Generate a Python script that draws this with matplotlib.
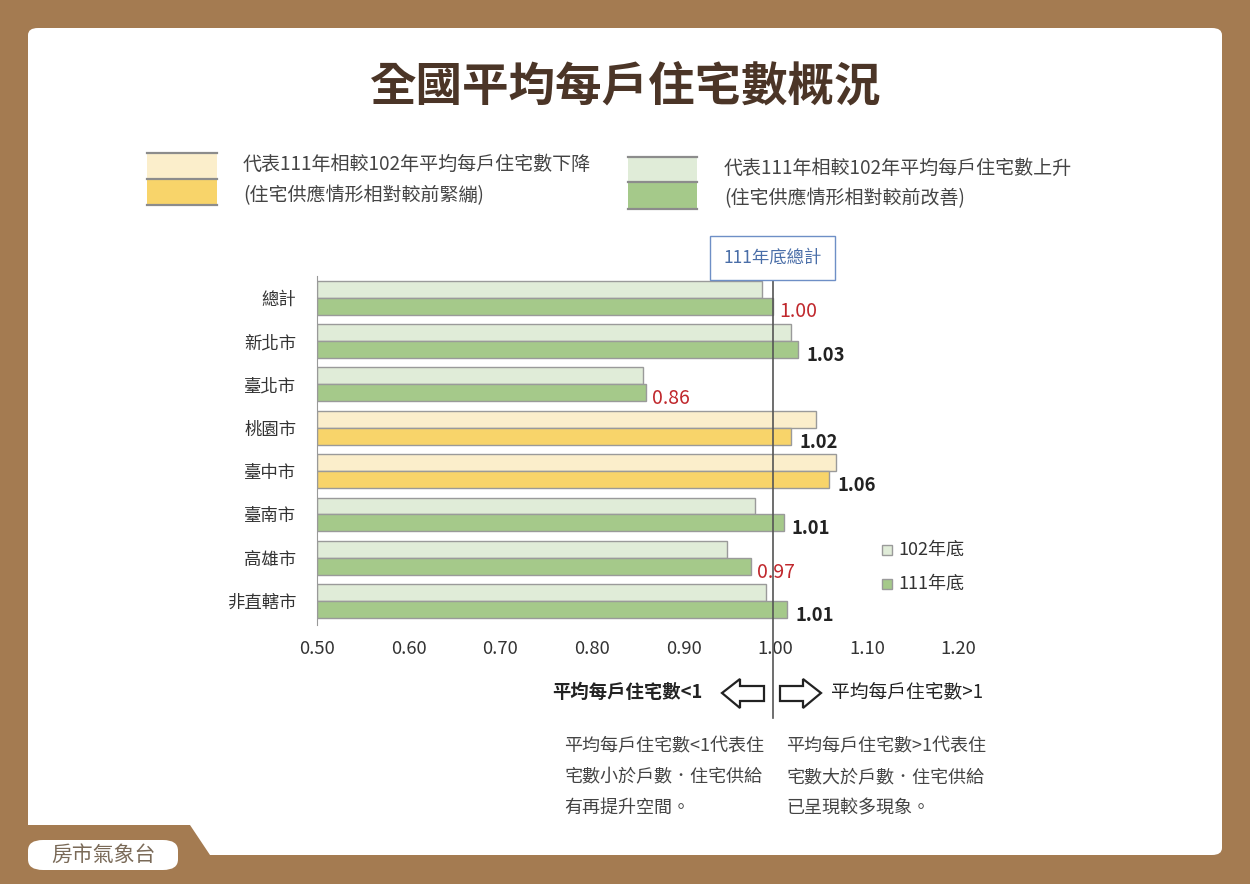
import matplotlib
matplotlib.use("Agg")
import matplotlib.pyplot as plt
from matplotlib.patches import FancyBboxPatch, Rectangle, Polygon
from matplotlib.lines import Line2D

plt.rcParams['font.family'] = ['Noto Sans CJK TC', 'DejaVu Sans']

categories = ["總計", "新北市", "臺北市", "桃園市", "臺中市", "臺南市", "高雄市", "非直轄市"]
values_102 = [0.985, 1.017, 0.856, 1.044, 1.066, 0.978, 0.947, 0.990]
values_111 = [0.997, 1.025, 0.859, 1.017, 1.059, 1.009, 0.973, 1.013]
labels_111 = ["1.00", "1.03", "0.86", "1.02", "1.06", "1.01", "0.97", "1.01"]
x_ticks = [0.5, 0.6, 0.7, 0.8, 0.9, 1.0, 1.1, 1.2]

W, H = 1250, 884
BROWN = "#A47B51"
LIGHT_GREEN = "#E0ECD8"
GREEN = "#A5C98A"
LIGHT_YELLOW = "#FBEECB"
YELLOW = "#F8D46A"
EDGE = "#9a9a9a"
RED = "#C0282D"


def fx(x):
    return x / W


def fy(y):
    return 1 - y / H


fig = plt.figure(figsize=(12.5, 8.84), dpi=100, facecolor=BROWN)

# white panel
panel = FancyBboxPatch((fx(28), fy(855)), fx(1222) - fx(28), fy(28) - fy(855),
                       boxstyle="round,pad=0,rounding_size=0.008",
                       transform=fig.transFigure, facecolor="white", edgecolor="none", zorder=0)
fig.patches.append(panel)
notch = Polygon([(fx(20), fy(825)), (fx(190), fy(825)), (fx(212), fy(858)), (fx(20), fy(858))],
                closed=True, transform=fig.transFigure, facecolor=BROWN, edgecolor="none", zorder=1)
fig.patches.append(notch)
pill = FancyBboxPatch((fx(28), fy(870)), fx(178) - fx(28), fy(840) - fy(870),
                      boxstyle="round,pad=0,rounding_size=0.012",
                      transform=fig.transFigure, facecolor="white", edgecolor="none", zorder=2)
fig.patches.append(pill)
fig.text(fx(103), fy(855), "房市氣象台", ha="center", va="center", fontsize=15,
         color="#7a6a58", fontweight="light", zorder=3)

# title
fig.text(0.5, fy(88), "全國平均每戶住宅數概況", ha="center", va="center",
         fontsize=33.5, fontweight="bold", color="#4B3527")

# top legend swatches
def swatch(x0, x1, y0, ym, y1, c_top, c_bot):
    fig.patches.append(Rectangle((fx(x0), fy(ym)), fx(x1) - fx(x0), fy(y0) - fy(ym),
                                 transform=fig.transFigure, facecolor=c_top, edgecolor="none", zorder=2))
    fig.patches.append(Rectangle((fx(x0), fy(y1)), fx(x1) - fx(x0), fy(ym) - fy(y1),
                                 transform=fig.transFigure, facecolor=c_bot, edgecolor="none", zorder=2))
    for yy in (y0, ym, y1):
        fig.lines.append(Line2D([fx(x0), fx(x1)], [fy(yy), fy(yy)], transform=fig.transFigure,
                                color="#8c8c8c", lw=1.6, zorder=3))


swatch(147, 217, 153, 179, 205, LIGHT_YELLOW, YELLOW)
swatch(628, 697, 157, 182, 209, LIGHT_GREEN, GREEN)
fig.text(fx(243), fy(164), "代表111年相較102年平均每戶住宅數下降", va="center", fontsize=13.7, color="#444444")
fig.text(fx(243), fy(196), "(住宅供應情形相對較前緊繃)", va="center", fontsize=13.7, color="#444444")
fig.text(fx(724), fy(168), "代表111年相較102年平均每戶住宅數上升", va="center", fontsize=13.7, color="#444444")
fig.text(fx(724), fy(199), "(住宅供應情形相對較前改善)", va="center", fontsize=13.7, color="#444444")

# main bar chart
ax = fig.add_axes([fx(317), fy(625), fx(958.6) - fx(317), fy(276) - fy(625)])
ax.set_zorder(5)
ax.set_facecolor("none")
bar_h = 0.39
for i, (cat, v102, v111) in enumerate(zip(categories, values_102, values_111)):
    up = v111 >= v102
    c_light = LIGHT_GREEN if up else LIGHT_YELLOW
    c_dark = GREEN if up else YELLOW
    ax.barh(i - bar_h / 2, v102 - 0.5, left=0.5, height=bar_h, color=c_light, edgecolor=EDGE, lw=1)
    ax.barh(i + bar_h / 2, v111 - 0.5, left=0.5, height=bar_h, color=c_dark, edgecolor=EDGE, lw=1)
    if v111 < 1.0:
        ax.text(v111 + 0.007, i + 0.33, labels_111[i], ha="left", va="center",
                fontsize=14, color=RED)
    else:
        ax.text(v111 + 0.009, i + 0.33, labels_111[i], ha="left", va="center",
                fontsize=13.3, color="#222222", fontweight="semibold")

ax.set_xlim(0.5, 1.2)
ax.set_ylim(7.55, -0.5)
ax.set_yticks(range(len(categories)))
ax.set_yticklabels(categories, fontsize=12.5, color="#333333")
ax.set_xticks(x_ticks)
ax.set_xticklabels([f"{t:.2f}" for t in x_ticks], fontsize=13.3, color="#333333")
ax.tick_params(axis="x", length=0, pad=11)
ax.tick_params(axis="y", length=0, pad=15)
for s in ("top", "right", "bottom"):
    ax.spines[s].set_visible(False)
ax.spines["left"].set_color("#999999")

# reference line at the 111 total
total_111 = values_111[0]
ax.axvline(total_111, ymin=(625 - 718) / 349, ymax=(625 - 278) / 349, color="#555555", lw=1.2, clip_on=False)
ax.text(total_111, (625 - 258) / 349, "111年底總計", transform=ax.get_xaxis_transform(),
        ha="center", va="center", fontsize=12.5, color="#4A6EA8",
        bbox=dict(boxstyle="square,pad=0.75", facecolor="white", edgecolor="#6E8FC6", lw=1))

# small legend
fig.patches.append(Rectangle((fx(882), fy(555)), fx(10), fy(545) - fy(555), transform=fig.transFigure,
                             facecolor=LIGHT_GREEN, edgecolor=EDGE, lw=1, zorder=2))
fig.patches.append(Rectangle((fx(882), fy(589)), fx(10), fy(579) - fy(589), transform=fig.transFigure,
                             facecolor=GREEN, edgecolor=EDGE, lw=1, zorder=2))
fig.text(fx(898), fy(550), "102年底", va="center", fontsize=13, color="#333333")
fig.text(fx(898), fy(584), "111年底", va="center", fontsize=13, color="#333333")

# arrows
left_arrow = [(722, 693), (740, 679), (740, 686), (764, 686), (764, 701), (740, 701), (740, 708)]
right_arrow = [(821, 693), (803, 679), (803, 686), (780, 686), (780, 701), (803, 701), (803, 708)]
for pts in (left_arrow, right_arrow):
    fig.patches.append(Polygon([(fx(x), fy(y)) for x, y in pts], closed=True, transform=fig.transFigure,
                               facecolor="white", edgecolor="#222222", lw=1.6, joinstyle="miter", zorder=2))
fig.text(fx(702), fy(692), "平均每戶住宅數<1", ha="right", va="center", fontsize=13.2,
         fontweight="bold", color="#222222")
fig.text(fx(831), fy(692), "平均每戶住宅數>1", ha="left", va="center", fontsize=13.5,
         fontweight="medium", color="#222222")

left_notes = ["平均每戶住宅數<1代表住", "宅數小於戶數．住宅供給", "有再提升空間。"]
right_notes = ["平均每戶住宅數>1代表住", "宅數大於戶數．住宅供給", "已呈現較多現象。"]
for k, (ln, rn) in enumerate(zip(left_notes, right_notes)):
    fig.text(fx(564), fy(746 + 31 * k), ln, va="center", fontsize=13, color="#444444")
    fig.text(fx(786), fy(746 + 31 * k), rn, va="center", fontsize=13, color="#444444")

fig.savefig("out.png", dpi=100, facecolor=BROWN)
